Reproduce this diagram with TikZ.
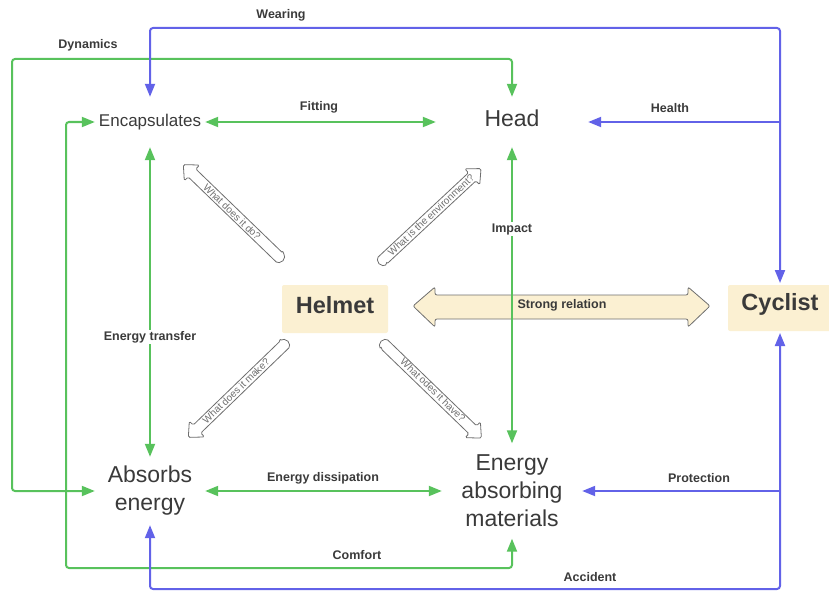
\documentclass[tikz,border=0pt]{standalone}
\usepackage{fontspec}
\setmainfont{Liberation Sans}
\usetikzlibrary{arrows.meta}
\definecolor{gr}{RGB}{88,194,92}
\definecolor{bl}{RGB}{98,98,232}
\definecolor{beige}{RGB}{251,240,210}
\definecolor{txt}{RGB}{58,58,58}
\definecolor{qgray}{RGB}{110,110,110}
\newcommand\qarrow[3]{%
  \begin{scope}[shift={#1},rotate=#2]
    \draw[qline] (0,-5.5) -- (#3-12,-5.5) -- (#3-12,-11) -- (#3,0) -- (#3-12,11) -- (#3-12,5.5) -- (0,5.5) arc(90:270:5.5) -- cycle;
  \end{scope}}
\begin{document}
\begin{tikzpicture}[x=1pt,y=1pt,
  concept/.style={text=txt, align=center, inner sep=0pt, font=\fontsize{23}{28}\selectfont},
  boxnode/.style={fill=beige, rounded corners=2pt, text=txt, font=\bfseries\fontsize{23.5}{28}\selectfont},
  glink/.style={draw=gr, line width=2pt, rounded corners=3pt, {Triangle[length=13pt,width=10pt]}-{Triangle[length=13pt,width=10pt]}},
  blink/.style={draw=bl, line width=2pt, rounded corners=3pt, {Triangle[length=13pt,width=10pt]}-{Triangle[length=13pt,width=10pt]}},
  blinkone/.style={draw=bl, line width=2pt, -{Triangle[length=13pt,width=10pt]}},
  lbl/.style={text=txt, font=\bfseries\fontsize{12.5}{15}\selectfont, inner sep=1pt},
  qline/.style={draw=qgray, fill=white, line width=0.8pt, rounded corners=1.5pt},
  qtext/.style={text=qgray, font=\fontsize{10}{12}\selectfont, inner sep=0pt},
  relstyle/.style={draw=qgray, fill=beige, line width=0.8pt, rounded corners=2pt}]
\useasboundingbox (0,0) rectangle (829,-591);

% concept nodes
\node[concept, minimum width=110pt, minimum height=50pt, font=\fontsize{17}{20}\selectfont] (enc) at (150,-122) {Encapsulates};
\node[concept, minimum width=152pt, minimum height=50pt, text depth=8pt] (head) at (512,-122) {Head};
\node[concept, minimum width=110pt, minimum height=68pt] (abs) at (150,-491) {Absorbs\\energy};
\node[concept, minimum width=140pt, minimum height=95pt] (eam) at (512,-491) {Energy\\absorbing\\materials};
\node[boxnode, minimum width=106pt, minimum height=48pt, text depth=8pt] (helmet) at (335,-309) {Helmet};
\node[boxnode, minimum width=104pt, minimum height=46pt, outer sep=2pt, text depth=13pt] (cyc) at (780,-308) {Cyclist};

% corner coordinates
\coordinate (dyncorner) at (12,-59);
\coordinate (comfcorner) at (66,-568);
\coordinate (wearmid) at (465,-28);
\coordinate (accmid) at (465,-589);
\coordinate (healthpt) at (780,-122);
\coordinate (protpt) at (780,-491);

% strong relation double arrow
\draw[relstyle] (413,-306) -- (435,-287) -- (435,-295) -- (688,-295) -- (688,-287) -- (710,-306) -- (688,-327) -- (688,-319) -- (435,-319) -- (435,-327) -- cycle;

% question arrows
\qarrow{(279,-257)}{136}{133}
\qarrow{(383,-260)}{43}{134}
\qarrow{(284,-345)}{224}{133}
\qarrow{(385,-345)}{-44}{134}
\node[qtext, rotate=-44] (q1) at (232,-212) {What does it do?};
\node[qtext, rotate=43] (q2) at (431,-215) {What is the environment?};
\node[qtext, rotate=44] (q3) at (236,-391) {What does it make?};
\node[qtext, rotate=-44] (q4) at (433,-390) {What odes it have?};

% green connectors
\draw[glink] (abs.west) -| (dyncorner) -| (head.north);
\draw[glink] (enc.west) -| (comfcorner) -| (eam.south);
\draw[glink] (enc.east) -- (head.west);
\draw[glink] (enc.south) -- (abs.north);
\draw[glink] (head.south) -- (eam.north);
\draw[glink] (abs.east) -- (eam.west);

% blue connectors
\draw[blink] (cyc.north) |- (wearmid) -| (enc.north);
\draw[blinkone] (healthpt) -- (healthpt -| head.east);
\draw[blinkone] (protpt) -- (protpt -| eam.east);
\draw[blink] (cyc.south) |- (accmid) -| (abs.south);

% labels
\node[lbl] (lwear) at (281,-15) {Wearing};
\node[lbl] (ldyn) at (88,-45) {Dynamics};
\node[lbl] (lfit) at (319,-107) {Fitting};
\node[lbl] (lhealth) at (670,-108) {Health};
\node[lbl, fill=white] (limpact) at (512,-229) {Impact};
\node[lbl, fill=white] (ltrans) at (150,-337) {Energy transfer};
\node[lbl] (ldiss) at (323,-478) {Energy dissipation};
\node[lbl] (lprot) at (699,-478) {Protection};
\node[lbl] (lcomf) at (357,-555) {Comfort};
\node[lbl] (lacc) at (590,-577) {Accident};
\node[lbl] (lrel) at (562,-305) {Strong relation};
\end{tikzpicture}
\end{document}
